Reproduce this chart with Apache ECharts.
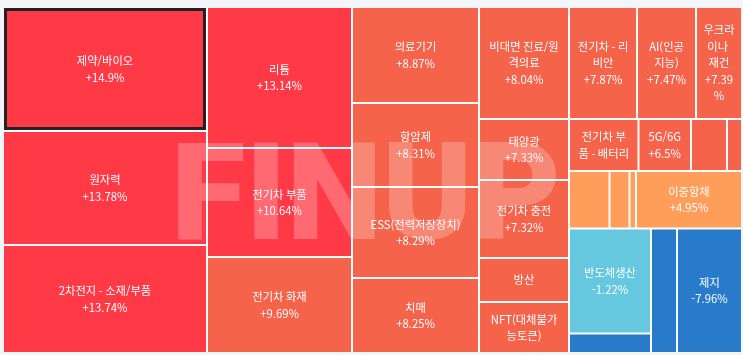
<!DOCTYPE html>
<html lang="ko">
<head>
    <meta charset="UTF-8">
    <title>테마별 등락률</title>
    <script src="https://cdn.jsdelivr.net/npm/echarts@6/dist/echarts.min.js"></script>
    <style>
        html, body { margin: 0; padding: 0; background: #f3f5f9; }
        #main { width: 743px; height: 355px; }
    </style>
</head>
<body>
<div id="main"></div>
<script>
    // 테마 이름 (화면 배치 순서), '' 는 칸이 작아서 라벨이 안 보이는 테마
    var themeNames = [
        '제약/바이오', '원자력', '2차전지 - 소재/부품',
        '리튬', '전기차 부품', '전기차 화재',
        '의료기기', '항암제', 'ESS(전력저장장치)', '치매',
        '비대면 진료/원격의료', '태양광', '전기차 충전', '방산', 'NFT(대체불가능토큰)',
        '전기차 - 리비안', 'AI(인공지능)', '우크라이나 재건',
        '전기차 부품 - 배터리', '5G/6G', '', '',
        '', '', '', '이중항체',
        '반도체생산', '', '', '제지'
    ];
    // 칸 크기 (그림에서 읽은 면적)
    var themeSizes = [
        2530, 2326, 2203,
        2045, 1581, 1392,
        1219, 1067, 1156, 953,
        1008, 549, 702, 396, 459,
        762, 661, 515,
        361, 273, 187, 78,
        233, 115, 37, 610,
        861, 160, 324, 809
    ];
    // 등락률 (%)
    var themeChanges = [
        14.9, 13.78, 13.74,
        13.14, 10.64, 9.69,
        8.87, 8.31, 8.29, 8.25,
        8.04, 7.33, 7.32, 7.2, 7.1,
        7.87, 7.47, 7.39,
        6.8, 6.5, 6.3, 6.1,
        5.8, 5.5, 5.2, 4.95,
        -1.22, -6.5, -7.2, -7.96
    ];
    var selectedTheme = '제약/바이오';

    //등락률 구간별 색
    function colorOf(c) {
        if (c >= 10) return '#ff3a46';
        if (c >= 6) return '#f5634b';
        if (c >= 0) return '#ff9d5a';
        if (c > -5) return '#66c8de';
        return '#287aca';
    }

    function leaf(i) {
        var named = themeNames[i] !== '';
        var item = {
            name: named ? themeNames[i] : '기타 ' + (i + 1),
            value: themeSizes[i],
            change: themeChanges[i],
            itemStyle: { color: colorOf(themeChanges[i]) },
            label: { show: named }
        };
        if (themeNames[i] === selectedTheme) {
            item.itemStyle.borderWidth = 3;
            item.itemStyle.borderColor = '#222';
        }
        return item;
    }
    function leaves(a, b) {
        var out = [];
        for (var i = a; i < b; i++) out.push(leaf(i));
        return out;
    }
    function group(name, list) {
        return { name: name, children: list };
    }

    // 묶음: 왼쪽 세 열은 그대로, 나머지는 오른쪽 묶음으로
    var treeData = leaves(0, 10).concat([
        group('right', [
            group('col4', [leaf(10), leaf(11), group('col4b', [group('col4c', [leaf(12), leaf(13)]), leaf(14)])]),
            group('rest', leaves(15, 30))
        ])
    ]);

    var chart = echarts.init(document.getElementById('main'));
    var option = {
        backgroundColor: '#f3f5f9',
        animation: false,
        graphic: [{
            type: 'text',
            x: 366,
            y: 205,
            z: 100,
            silent: true,
            style: {
                text: 'FINUP',
                fontFamily: 'Roboto',
                fontWeight: 900,
                fontSize: 136,
                fill: 'rgba(255,255,255,0.24)',
                align: 'center',
                verticalAlign: 'middle'
            }
        }],
        series: [{
            type: 'treemap',
            left: 4,
            top: 8,
            width: 737,
            height: 344,
            sort: false,
            roam: false,
            nodeClick: false,
            breadcrumb: { show: false },
            emphasis: { disabled: true },
            itemStyle: {
                borderWidth: 0,
                gapWidth: 2,
                borderColor: '#fff'
            },
            label: {
                show: true,
                color: '#fff',
                fontFamily: 'Noto Sans CJK KR',
                fontSize: 11.3,
                lineHeight: 16.5,
                padding: 5,
                overflow: 'breakAll',
                formatter: function (p) {
                    var c = p.data.change;
                    return p.name + '\n' + (c > 0 ? '+' : '') + c + '%';
                }
            },
            data: treeData
        }]
    };
    chart.setOption(option);
</script>
</body>
</html>
